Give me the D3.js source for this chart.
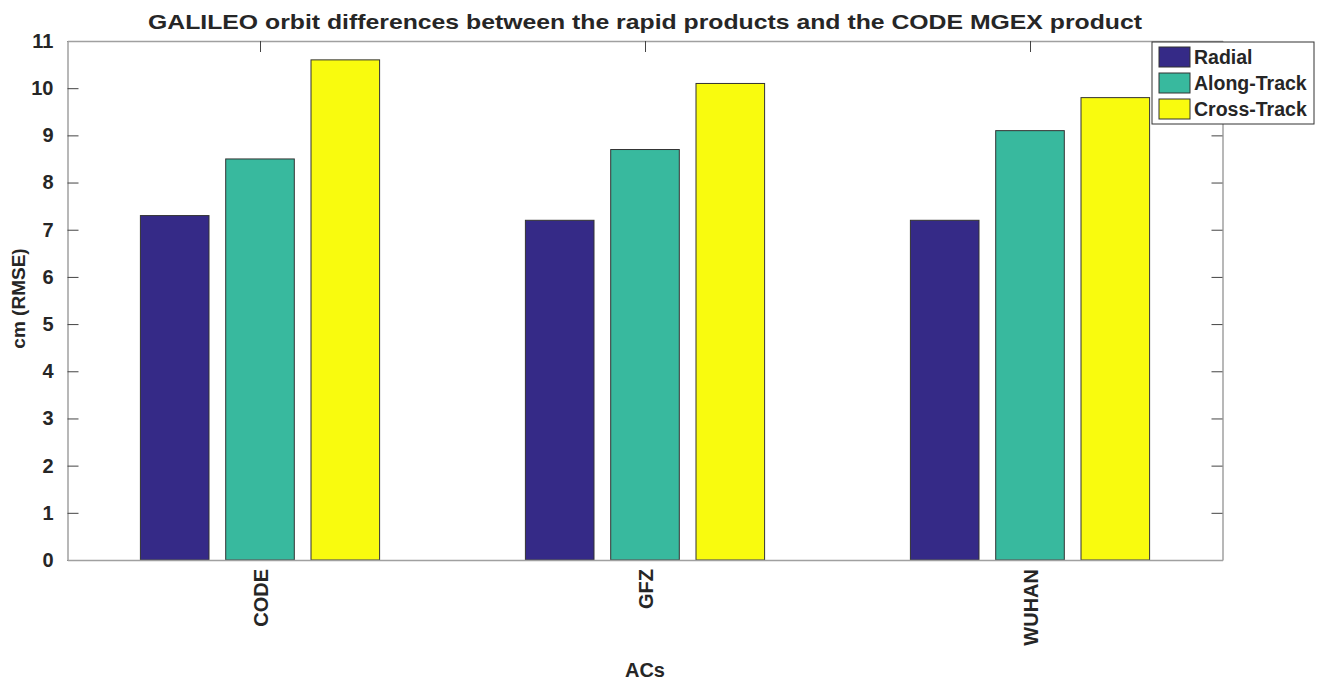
<!DOCTYPE html>
<html>
<head>
<meta charset="utf-8">
<script src="https://cdn.jsdelivr.net/npm/d3@7"></script>
<style>
  body { margin: 0; background: #fff; }
  text { font-family: "Liberation Sans", Arial, sans-serif; font-weight: bold; fill: #262626; }
</style>
</head>
<body>
<svg id="chart"></svg>
<script>
const WIDTH = 1325,
    HEIGHT = 683;

const margin = { top: 41, right: 102.5, bottom: 123, left: 67.5 };

// data
const centros = ["CODE", "GFZ", "WUHAN"];
const series = ["Radial", "Along-Track", "Cross-Track"];
const radial = [7.3, 7.2, 7.2];
const alongTrack = [8.5, 8.7, 9.1];
const crossTrack = [10.6, 10.1, 9.8];
const colores = ["#352a87", "#38b99e", "#f9fb0e"];
const ticksY = [0, 1, 2, 3, 4, 5, 6, 7, 8, 9, 10, 11];

const valores = [radial, alongTrack, crossTrack];

const svg = d3.select("#chart")
    .attr("width", WIDTH)
    .attr("height", HEIGHT);

const anchoPlot = WIDTH - margin.left - margin.right;
const altoPlot = HEIGHT - margin.top - margin.bottom;

const escalaX = d3.scaleLinear().domain([0.5, 3.5]).range([0, anchoPlot]);
const escalaY = d3.scaleLinear().domain([0, 11]).range([altoPlot, 0]);

const plot = svg.append("g")
    .attr("transform", `translate(${margin.left} ${margin.top})`);

// barras
const paso = 85.3, anchoBarra = 68.6;
const offsets = [-1, 0, 1];

series.forEach((s, j) => {
    plot.append("g")
        .selectAll("rect")
        .data(valores[j])
        .join("rect")
        .attr("x", (d, i) => escalaX(i + 1) + offsets[j] * paso - anchoBarra / 2)
        .attr("y", d => escalaY(d))
        .attr("width", anchoBarra)
        .attr("height", d => altoPlot - escalaY(d))
        .attr("fill", colores[j])
        .attr("stroke", "#333")
        .attr("stroke-width", 1);
});

// ejes
const estiloEje = (g) => {
    g.select(".domain").attr("stroke", "#a0a0a0").attr("stroke-width", 1.5);
    g.selectAll(".tick line").attr("stroke", "#444");
    g.selectAll("text").style("font-size", "20px").attr("fill", "#262626");
};

plot.append("g")
    .call(d3.axisLeft(escalaY).tickValues(ticksY).tickSizeInner(-11).tickSizeOuter(0).tickPadding(14))
    .call(estiloEje);

plot.append("g")
    .attr("transform", `translate(${anchoPlot} 0)`)
    .call(d3.axisRight(escalaY).tickValues(ticksY).tickSizeInner(-11).tickSizeOuter(0).tickFormat(""))
    .call(estiloEje);

const ejeX = plot.append("g")
    .attr("transform", `translate(0 ${altoPlot})`)
    .call(d3.axisBottom(escalaX).tickValues([1, 2, 3]).tickSizeInner(0).tickSizeOuter(0).tickFormat(i => centros[i - 1]))
    .call(estiloEje);

ejeX.selectAll(".tick text")
    .attr("transform", "rotate(-90)")
    .attr("text-anchor", "end")
    .attr("x", -9)
    .attr("y", 0)
    .attr("dy", "0.35em");

plot.append("g")
    .call(d3.axisTop(escalaX).tickValues([1, 2, 3]).tickSizeInner(-11).tickSizeOuter(0).tickFormat(""))
    .call(estiloEje);

// titulos
svg.append("text")
    .attr("x", margin.left + anchoPlot / 2)
    .attr("y", 29)
    .attr("text-anchor", "middle")
    .attr("textLength", 994)
    .attr("lengthAdjust", "spacingAndGlyphs")
    .style("font-size", "21px")
    .text("GALILEO orbit differences between the rapid products and the CODE MGEX product");

svg.append("text")
    .attr("transform", `translate(25 ${margin.top + altoPlot / 2 - 2}) rotate(-90)`)
    .attr("text-anchor", "middle")
    .style("font-size", "19px")
    .text("cm (RMSE)");

svg.append("text")
    .attr("x", margin.left + anchoPlot / 2)
    .attr("y", 677)
    .attr("text-anchor", "middle")
    .style("font-size", "20px")
    .text("ACs");

// leyenda
const leyenda = svg.append("g").attr("transform", "translate(1152 42)");
leyenda.append("rect")
    .attr("width", 162).attr("height", 82)
    .attr("fill", "#fff").attr("stroke", "#333").attr("stroke-width", 1);

const items = leyenda.selectAll("g.item")
    .data(series)
    .join("g")
    .attr("class", "item")
    .attr("transform", (d, i) => `translate(7 ${5 + i * 26})`);

items.append("rect")
    .attr("width", 31).attr("height", 20)
    .attr("fill", (d, i) => colores[i])
    .attr("stroke", "#333");

items.append("text")
    .attr("x", 35).attr("y", 10).attr("dy", "0.35em")
    .style("font-size", "19.5px")
    .text(d => d);
</script>
</body>
</html>
